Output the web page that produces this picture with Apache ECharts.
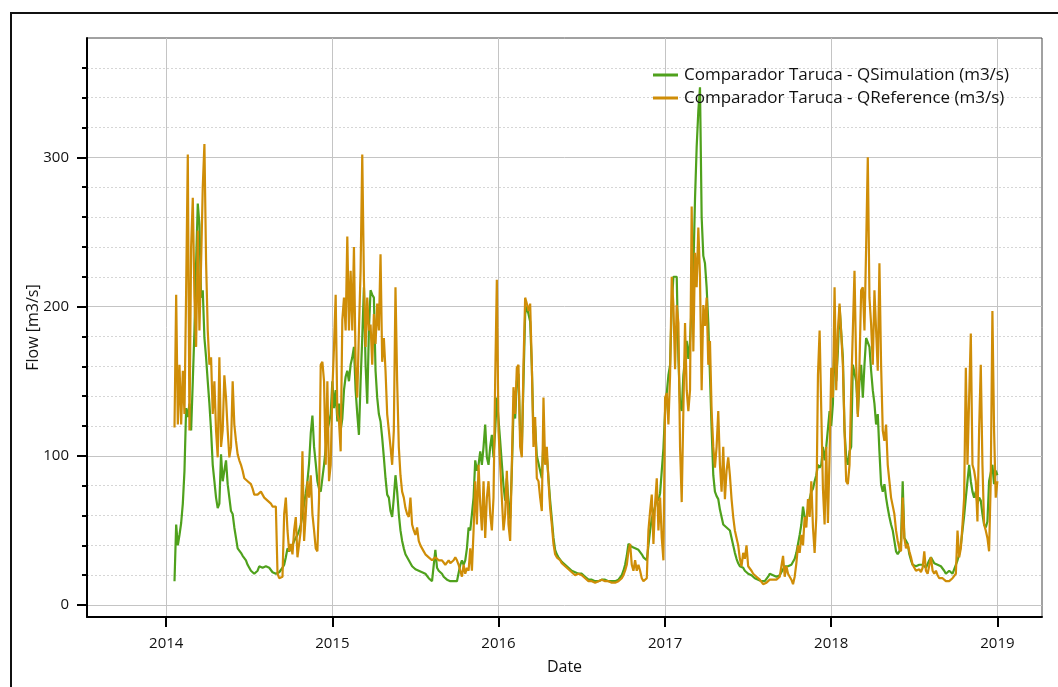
<!DOCTYPE html>
<html>
<head>
<meta charset="utf-8">
<script src="https://cdn.jsdelivr.net/npm/echarts@6/dist/echarts.min.js"></script>
<style>
html,body{margin:0;padding:0;background:#fff;}
#chart{width:1058px;height:687px;}
</style>
</head>
<body>
<div id="chart"></div>
<script>
// ---- data: flow (m3/s) sampled every 1/100 of a year; index k counted from Jan 1 of each year
var firstK2014 = 5;
var sim2014 = [16,54,40,47,55,68,90,132,126,135,117,150,184,229,269,255,206,211,179,166,150,135,117,94,83,72,65,68,101,83,90,97,81,72,63,61,52,45,38,37,35,33,32,30,27,25,23,22,21,22,23,26,27,25,24,26,27,25,24,22,21,21,21,22,23,25,27,32,38,36,38,40,43,45,47,50,54,60,68,75,83,95,115,127,106,95,83,78,76,85,94,105,117,122,128];
var ref2014 = [119,208,121,161,121,157,128,211,302,117,240,273,206,173,251,184,229,280,309,230,184,161,166,128,150,117,99,166,106,117,154,139,117,99,106,150,121,110,101,97,94,90,85,84,83,82,81,78,74,74,74,75,76,74,72,71,70,69,68,66,65,66,21,18,18,19,61,72,50,36,41,34,50,59,32,41,50,103,43,61,83,72,87,61,50,38,36,72,161,163,150,94,150,83,94];
var sim2015 = [150,132,144,123,135,117,125,144,153,157,150,161,166,173,144,128,114,150,179,213,161,135,184,211,208,206,157,139,128,123,112,99,85,74,72,63,59,72,87,76,61,50,43,38,34,32,30,28,26,25,24,23,23,22,22,21,21,20,18,17,16,17,37,25,23,22,21,19,18,17,17,16,16,16,16,16,17,27,30,27,30,38,52,50,61,72,97,90,94,103,94,106,121,99,94,106,114,99,117,139];
var ref2015 = [144,173,208,128,123,103,191,206,184,247,184,224,184,240,161,139,184,224,302,218,173,206,184,188,161,195,175,202,184,235,163,179,157,128,117,106,94,117,213,150,106,87,76,72,65,61,59,72,54,50,47,52,43,40,38,36,34,33,32,31,30,31,32,31,30,30,30,29,27,28,30,28,27,30,32,30,27,23,19,27,21,25,23,38,23,50,83,54,94,68,50,83,45,72,83,61,50,72,150,218];
var sim2016 = [140,110,95,80,70,85,68,58,90,130,125,150,155,115,105,150,195,200,195,190,160,115,120,100,95,90,85,110,95,100,85,70,58,45,37,34,32,31,29,28,27,26,25,24,23,22,22,21,21,21,21,20,19,18,17,17,17,16,16,16,16,17,17,17,17,16,16,16,16,16,16,16,17,18,20,23,27,33,41,40,39,38,38,37,37,36,34,32,31,30,40,50,58,62,66,72,70,75,90,105];
var ref2016 = [117,94,72,50,61,90,54,43,94,146,128,159,161,106,99,161,206,202,197,202,161,106,126,85,83,72,63,139,94,106,83,65,54,41,34,32,31,30,28,27,26,25,24,23,22,21,20,20,21,21,20,20,18,17,16,16,16,16,15,15,16,16,17,17,16,16,16,16,15,15,15,15,16,17,18,20,23,27,36,41,27,23,30,23,27,23,18,16,15,18,50,63,74,41,68,85,50,72,45,30];
var sim2017 = [130,142,154,161,201,220,221,220,165,135,130,154,165,177,165,177,201,224,272,307,331,347,260,234,229,213,189,154,118,87,76,73,71,64,59,54,54,52,53,50,45,40,35,31,28,26,26,25,23,22,21,21,20,19,18,18,17,17,16,15,16,17,19,21,20,20,19,19,20,20,22,24,26,27,26,26,27,28,31,35,41,47,54,66,59,57,64,71,76,78,83,87,94,92,94,106,97,106,118,130];
var ref2017 = [139,142,121,154,220,201,158,201,189,106,69,130,189,144,130,144,267,170,236,213,253,220,144,201,187,206,161,177,130,106,92,106,130,94,76,106,71,90,99,87,71,59,50,45,40,31,26,35,31,40,26,25,23,21,20,19,18,17,16,14,15,15,16,17,17,17,17,17,18,19,26,33,19,26,21,19,17,14,19,28,40,35,47,40,59,52,71,59,83,52,35,59,154,184,130,78,54,106,55,100];
var sim2018 = [120,135,180,150,170,200,200,166,117,99,94,103,106,161,161,150,128,150,161,139,161,179,179,173,157,144,135,121,128,103,81,76,81,72,65,59,54,50,43,36,34,36,43,83,45,43,41,34,30,27,27,26,26,27,27,27,26,25,25,30,32,30,28,27,27,27,26,25,23,21,22,23,24,21,22,27,30,34,40,50,60,72,83,94,83,76,72,76,68,72,70,61,54,52,56,83,83,94,81,90];
var ref2018 = [159,139,213,144,184,202,202,161,117,83,81,94,144,184,224,161,126,161,211,213,184,240,300,206,188,161,211,184,157,229,161,117,110,121,94,83,72,72,61,50,43,38,36,72,45,38,41,36,32,27,25,23,23,24,22,25,36,23,21,22,32,23,21,23,20,18,17,18,17,16,15,16,17,18,18,21,50,32,38,54,72,159,94,139,182,94,90,83,56,117,161,94,54,50,45,36,83,197,117,72];
var sim2019 = [87];
var ref2019 = [83];

var yearTicks = [2014, 2015, 2016, 2017, 2018, 2019];
var flowTicks = [0, 100, 200, 300];
var flowMinorTicks = [20, 40, 60, 80, 120, 140, 160, 180, 220, 240, 260, 280, 320, 340, 360];
var flowMin = -8, flowMax = 380;
var dateMin = Date.UTC(2013, 6, 11), dateMax = Date.UTC(2019, 3, 9);

var simName = 'Comparador Taruca - QSimulation (m3/s)';
var refName = 'Comparador Taruca - QReference (m3/s)';

function yearStart(y){ return Date.UTC(y, 0, 1); }
function toPoints(year, arr, k0){
  var a = yearStart(year), len = yearStart(year + 1) - a;
  return arr.map(function(v, i){ return [a + (k0 + i) / 100 * len, v]; });
}
var simData = [].concat(
  toPoints(2014, sim2014, firstK2014), toPoints(2015, sim2015, 0), toPoints(2016, sim2016, 0),
  toPoints(2017, sim2017, 0), toPoints(2018, sim2018, 0), toPoints(2019, sim2019, 0));
var refData = [].concat(
  toPoints(2014, ref2014, firstK2014), toPoints(2015, ref2015, 0), toPoints(2016, ref2016, 0),
  toPoints(2017, ref2017, 0), toPoints(2018, ref2018, 0), toPoints(2019, ref2019, 0));
var yearTickValues = yearTicks.map(yearStart);

var FONT = 'Open Sans';
var TXT = '#111';

var chart = echarts.init(document.getElementById('chart'), null, {renderer: 'canvas'});
chart.setOption({
  animation: false,
  backgroundColor: '#fff',
  textStyle: {fontFamily: FONT},
  graphic: [{
    type: 'rect', silent: true, z: 100,
    shape: {x: 11, y: 13, width: 1070, height: 700},
    style: {fill: 'none', stroke: '#111', lineWidth: 2}
  }],
  grid: {left: 87, top: 38, right: 16, bottom: 70, show: true, borderColor: '#444', borderWidth: 1, backgroundColor: 'transparent'},
  legend: {
    orient: 'vertical', left: 648, top: 61, itemGap: 5,
    icon: 'rect', itemWidth: 25, itemHeight: 3,
    textStyle: {fontFamily: FONT, fontSize: 17, color: TXT, lineHeight: 18, padding: [0,0,0,1]},
    data: [simName, refName]
  },
  xAxis: {
    type: 'value', min: dateMin, max: dateMax,
    axisLine: {show: true, onZero: false, lineStyle: {color: '#000', width: 2}},
    axisTick: {show: true, length: 10, customValues: yearTickValues, lineStyle: {color: '#000', width: 2}},
    axisLabel: {customValues: yearTickValues, margin: 19, fontFamily: FONT, fontSize: 15, color: TXT,
      formatter: function(v){ return String(new Date(v).getUTCFullYear()); }},
    splitLine: {show: true, lineStyle: {color: '#c4c4c4', width: 1}},
    name: 'Date', nameLocation: 'middle', nameGap: 42, nameMoveOverlap: false,
    nameTextStyle: {fontFamily: FONT, fontSize: 16, color: TXT}
  },
  yAxis: [{
    type: 'value', min: flowMin, max: flowMax, position: 'left',
    axisLine: {show: true, lineStyle: {color: '#000', width: 2}},
    axisTick: {show: true, length: 10, customValues: flowTicks, lineStyle: {color: '#000', width: 2}},
    axisLabel: {customValues: flowTicks, margin: 18, fontFamily: FONT, fontSize: 15, color: TXT},
    splitLine: {show: true, lineStyle: {color: '#c4c4c4', width: 1}},
    name: 'Flow [m3/s]', nameLocation: 'middle', nameGap: 46, nameMoveOverlap: false,
    nameTextStyle: {fontFamily: FONT, fontSize: 16, color: TXT}
  }, {
    type: 'value', min: flowMin, max: flowMax, position: 'left',
    axisLine: {show: false},
    axisTick: {show: true, length: 5, customValues: flowMinorTicks, lineStyle: {color: '#000', width: 2}},
    axisLabel: {show: false, customValues: flowMinorTicks},
    splitLine: {show: true, lineStyle: {color: '#d6d6d6', width: 1, type: [2, 2]}}
  }],
  series: [{
    name: simName, type: 'line', yAxisIndex: 0, data: simData,
    showSymbol: false, symbol: 'none', color: '#4fa11c',
    lineStyle: {width: 2.2, color: '#4fa11c'}, z: 3
  }, {
    name: refName, type: 'line', yAxisIndex: 0, data: refData,
    showSymbol: false, symbol: 'none', color: '#cf8d07',
    lineStyle: {width: 2.2, color: '#cf8d07'}, z: 4
  }]
});
</script>
</body>
</html>
